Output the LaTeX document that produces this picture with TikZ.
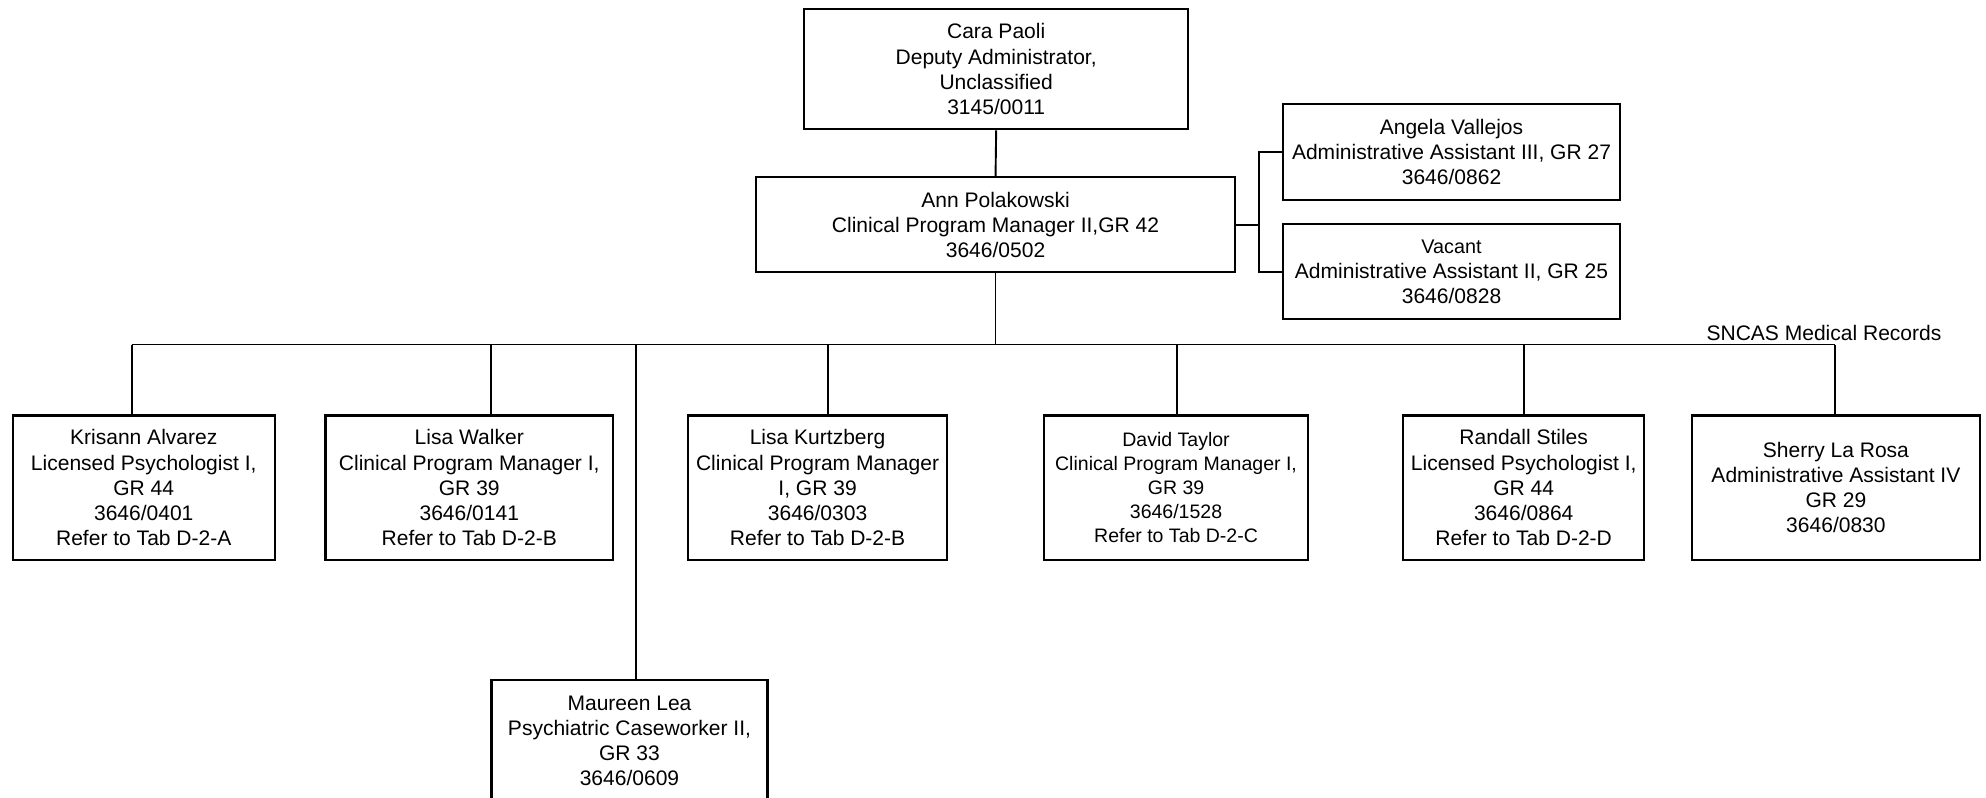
\documentclass[tikz,border=0pt]{standalone}
\usepackage{fontspec}
\setmainfont{Liberation Sans}
\begin{document}
\begin{tikzpicture}[x=1bp,y=-1bp,
  box/.style={draw=black, line width=1.7bp, inner sep=0pt, align=center,
    font=\fontsize{16.6bp}{19.8bp}\selectfont},
  small/.style={font=\fontsize{15.4bp}{18.8bp}\selectfont},
  link/.style={draw=black, line width=1.5bp}]
\useasboundingbox (0,0) rectangle (1568,630);
\fill[white] (0,0) rectangle (1568,630);
\begin{scope}
\clip (0,0) rectangle (1568,630);
\node[box, minimum width=303bp, minimum height=95bp] (cara) at (786.5,54.5)
  {Cara Paoli\\Deputy Administrator,\\Unclassified\\3145/0011};
\node[box, minimum width=378bp, minimum height=75bp] (ann) at (786,177.5)
  {Ann Polakowski\\Clinical Program Manager II,GR 42\\3646/0502};
\node[box, minimum width=266bp, minimum height=76bp] (angela) at (1146,120)
  {Angela Vallejos\\Administrative Assistant III, GR 27\\3646/0862};
\node[box, minimum width=266bp, minimum height=75bp] (vacant) at (1146,214.5)
  {{\fontsize{15.6bp}{19.8bp}\selectfont Vacant}\\Administrative Assistant II, GR 25\\3646/0828};
\node[box, minimum width=207bp, minimum height=114bp] (kris) at (113.5,385)
  {Krisann Alvarez\\Licensed Psychologist I,\\GR 44\\3646/0401\\Refer to Tab D-2-A};
\node[box, minimum width=227bp, minimum height=114bp] (walker) at (370.5,385)
  {Lisa Walker\\Clinical Program Manager I,\\GR 39\\3646/0141\\Refer to Tab D-2-B};
\node[box, minimum width=205bp, minimum height=114bp] (kurtz) at (645.5,385)
  {Lisa Kurtzberg\\Clinical Program Manager\\I, GR 39\\3646/0303\\Refer to Tab D-2-B};
\node[box, small, minimum width=209bp, minimum height=114bp] (taylor) at (928.5,385)
  {David Taylor\\Clinical Program Manager I,\\GR 39\\3646/1528\\Refer to Tab D-2-C};
\node[box, minimum width=190bp, minimum height=114bp] (stiles) at (1203,385)
  {Randall Stiles\\Licensed Psychologist I,\\GR 44\\3646/0864\\Refer to Tab D-2-D};
\node[box, minimum width=227bp, minimum height=114bp] (rosa) at (1449.5,385)
  {Sherry La Rosa\\Administrative Assistant IV\\GR 29\\3646/0830};
\node[box, minimum width=218bp, minimum height=96bp] (lea) at (497,585)
  {Maureen Lea\\Psychiatric Caseworker II,\\GR 33\\3646/0609};
\end{scope}
\node[anchor=east, inner sep=0pt, font=\fontsize{16.6bp}{19.8bp}\selectfont] (sncas) at (1533,263) {SNCAS Medical Records};

% connectors
\draw[link] (cara.south) -- (ann.north);
\draw[link] (ann.east) -- ++(18,0) coordinate (aj) |- (angela.west);
\draw[link] (aj) |- (vacant.west);
\coordinate (busL) at (104,272);
\coordinate (busR) at (1449,272);
\draw[link] (busL) -- (busR);
\draw[link] (ann.south) -- (ann.south |- busL);
\coordinate (cK) at (104,272);
\coordinate (cW) at (388,272);
\coordinate (cM) at (502,272);
\coordinate (cKu) at (654,272);
\coordinate (cT) at (929,272);
\coordinate (cS) at (1203,272);
\coordinate (cR) at (1449,272);
\draw[link] (cK) -- (cK |- kris.north);
\draw[link] (cW) -- (cW |- walker.north);
\draw[link] (cM) -- (cM |- lea.north);
\draw[link] (cKu) -- (cKu |- kurtz.north);
\draw[link] (cT) -- (cT |- taylor.north);
\draw[link] (cS) -- (cS |- stiles.north);
\draw[link] (cR) -- (cR |- rosa.north);
\end{tikzpicture}
\end{document}
